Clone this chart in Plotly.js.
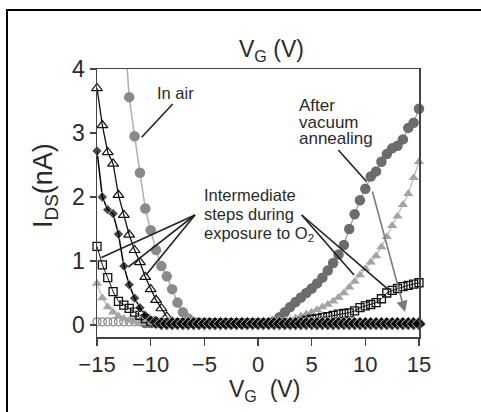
<!DOCTYPE html>
<html><head><meta charset="utf-8">
<script src="https://cdn.plot.ly/plotly-3.0.1.min.js"></script>
<style>
html,body{margin:0;padding:0;overflow:hidden;background:#fff;width:481px;height:412px}
#chart{position:absolute;left:0;top:0;width:481px;height:412px}
#frame{position:absolute;left:6px;top:9px;width:700px;height:700px;border:2px solid #000;pointer-events:none}
</style></head>
<body><div id="chart"></div><div id="frame"></div>
<script>
// Gate voltage (V)
const VG = [-15,-14.5,-14,-13.5,-13,-12.5,-12,-11.5,-11,-10.5,
  -10,-9.5,-9,-8.5,-8,-7.5,-7,-6.5,-6,-5.5,
  -5,-4.5,-4,-3.5,-3,-2.5,-2,-1.5,-1,-0.5,
  0,0.5,1,1.5,2,2.5,3,3.5,4,4.5,
  5,5.5,6,6.5,7,7.5,8,8.5,9,9.5,
  10,10.5,11,11.5,12,12.5,13,13.5,14,14.5,15];

// I_DS (nA) — in air (gray circles)
const inAir = [null,null,null,null,null,4.75,3.56,2.95,2.38,1.82,
  1.48,1.17,0.92,0.76,0.56,0.35,0.20,0.10,0.05,0.04,
  0.03,0.03,0.03,0.03,0.03,0.03,0.03,0.03,0.03,0.03,
  0.03,0.03,0.03,0.03,0.03,0.03,0.03,0.03,0.03,0.03,
  0.03,0.03,0.03,0.03,0.03,0.03,0.03,0.03,0.03,0.03,
  0.03,0.03,0.03,0.03,0.03,0.03,0.03,0.03,0.03,0.03,0.03];

// After vacuum annealing (dark gray circles)
const vacuum = [null,null,null,null,null,null,null,null,null,0.03,
  0.03,0.03,0.03,0.03,0.03,0.03,0.03,0.03,0.03,0.03,
  0.03,0.03,0.03,0.03,0.03,0.03,0.03,0.03,0.03,0.03,
  0.03,0.03,0.03,0.06,0.12,0.20,0.28,0.36,0.43,0.50,
  0.57,0.65,0.74,0.85,0.97,1.10,1.25,1.50,1.73,1.95,
  2.13,2.32,2.40,2.55,2.67,2.76,2.80,2.90,3.08,3.16,3.38];

// Intermediate step 1 (gray filled triangles)
const grayTri = [0.65,0.42,0.28,0.20,0.14,0.10,0.07,0.05,0.04,0.03,
  0.03,0.03,0.03,0.03,0.03,0.03,0.03,0.03,0.03,0.03,
  0.03,0.03,0.03,0.03,0.03,0.03,0.03,0.03,0.03,0.03,
  0.03,0.03,0.03,0.03,0.04,0.05,0.08,0.11,0.14,0.17,
  0.20,0.24,0.28,0.32,0.37,0.43,0.50,0.59,0.68,0.78,
  0.88,0.98,1.08,1.22,1.38,1.55,1.70,1.88,2.05,2.30,2.55];

// Intermediate step 2 (open squares)
const squares = [1.23,0.94,0.74,0.52,0.37,0.31,0.26,0.20,0.15,0.10,
  0.06,0.04,0.03,0.03,0.03,0.03,0.03,0.03,0.03,0.03,
  0.03,0.03,0.03,0.03,0.03,0.03,0.03,0.03,0.03,0.03,
  0.03,0.03,0.03,0.03,0.03,0.03,0.03,0.03,0.05,0.07,
  0.09,0.10,0.12,0.13,0.15,0.17,0.18,0.19,0.22,0.27,
  0.30,0.32,0.35,0.41,0.50,0.54,0.57,0.60,0.62,0.64,0.66];

// Intermediate step 3 (open triangles)
const openTri = [3.70,3.12,2.70,2.52,2.03,1.72,1.41,1.17,0.98,0.75,
  0.56,0.39,0.26,0.13,0.05,0.03,0.03,0.03,0.03,0.03,
  0.03,0.03,0.03,0.03,0.03,0.03,0.03,0.03,0.03,0.03,
  0.03,0.03,0.03,0.03,0.03,0.03,0.03,0.03,0.03,0.03,
  0.03,0.03,0.03,0.03,0.03,0.03,0.03,0.03,0.03,0.03,
  0.03,0.03,0.03,0.03,0.03,0.03,0.03,0.03,0.03,0.03,0.03];

// Intermediate step 4 (black diamonds)
const diamonds = [2.72,2.00,1.80,1.74,1.42,0.92,0.63,0.42,0.27,0.15,
  0.08,0.04,0.02,0.02,0.02,0.02,0.02,0.02,0.02,0.02,
  0.02,0.02,0.02,0.02,0.02,0.02,0.02,0.02,0.02,0.02,
  0.02,0.02,0.02,0.02,0.02,0.02,0.02,0.02,0.02,0.02,
  0.02,0.02,0.02,0.02,0.02,0.02,0.02,0.02,0.02,0.02,
  0.02,0.02,0.02,0.02,0.02,0.02,0.02,0.02,0.02,0.02,0.02];

// Open circles near zero (left end)
const openCirc = [0.05,0.05,0.05,0.05,0.05,0.05,0.05,0.05,0.05,null,
  null,null,null,null,null,null,null,null,null,null,
  null,null,null,null,null,null,null,null,null,null,
  null,null,null,null,null,null,null,null,null,null,
  null,null,null,null,null,null,null,null,null,null,
  null,null,null,null,null,null,null,null,null,null,null];

const xTicks = [-15,-10,-5,0,5,10,15];
const yTicks = [0,1,2,3,4];

const FONT = 'Liberation Sans, Arial, sans-serif';
const TXT = '#2a2a2a';

// plot-area pixel frame helpers (layout placement only)
const L = 97, R = 419, T = 69, B = 337;
const px = v => (v - L) / (R - L);
const py = v => (B - v) / (B - T);

function series(y, opts) {
  return Object.assign({x: VG, y: y, type: 'scatter', mode: 'lines+markers',
    cliponaxis: false, hoverinfo: 'skip', showlegend: false}, opts);
}

const data = [
  series(openCirc, {mode: 'markers', marker: {symbol: 'circle-open', size: 8, color: '#8a8a8a', line: {width: 1.2}}}),
  series(inAir, {cliponaxis: true, line: {color: '#b0b0b0', width: 1.5},
    marker: {symbol: 'circle', size: 10.5, color: '#8a8a8a'}}),
  series(vacuum, {line: {color: '#9a9a9a', width: 1.2},
    marker: {symbol: 'circle', size: 10.5, color: '#6c6c6c'}}),
  series(grayTri, {line: {color: '#b8b8b8', width: 1.2},
    marker: {symbol: 'triangle-up', size: 9, color: '#a4a4a4'}}),
  series(squares, {line: {color: '#111', width: 1},
    marker: {symbol: 'square-open', size: 8, color: '#111', line: {width: 1.3}}}),
  series(openTri, {line: {color: '#111', width: 1.3},
    marker: {symbol: 'triangle-up-open', size: 9.5, color: '#111', line: {width: 1.2}}}),
  series(diamonds, {line: {color: '#000', width: 1.5},
    marker: {symbol: 'diamond', size: diamonds.map(v => v < 0.05 ? 11 : 8), color: '#000'}})
];

function seg(x0, y0, x1, y1) {
  return {type: 'line', xref: 'paper', yref: 'paper', x0: px(x0), y0: py(y0), x1: px(x1), y1: py(y1),
    line: {color: '#222', width: 1.6}};
}
const shapes = [
  seg(172.7, 104, 141.7, 137.3),
  seg(195, 215, 101.5, 257.5),
  seg(195, 215, 128.3, 267),
  seg(195, 215, 146, 275),
  seg(301.7, 215, 354, 275),
  seg(301.7, 215, 387, 288.3),
  seg(338.3, 150, 366.7, 181.7)
];

function label(text, x, y, anchor, size) {
  return {text: text, xref: 'paper', yref: 'paper', x: px(x), y: py(y), xanchor: anchor, yanchor: 'middle',
    showarrow: false, font: {family: FONT, size: size, color: TXT}};
}
const annotations = [
  label('V<sub>G</sub> (V)', 271, 51, 'center', 23),
  label('V<sub>G</sub>  (V)', 264, 390, 'center', 23),
  Object.assign(label('I<sub>DS</sub>(nA)', 45, 186, 'center', 27), {textangle: -90}),
  label('In air', 175, 93.4, 'center', 16.5),
  label('After', 296.7, 105.8, 'left', 17),
  label('vacuum', 297, 122.4, 'left', 17),
  label('annealing', 296.7, 138, 'left', 17),
  label('Intermediate', 201.7, 195, 'left', 16.5),
  label('steps during', 201.7, 214, 'left', 16.5),
  label('exposure to O<sub>2</sub>', 201.7, 234, 'left', 16.5),
  {text: '', xref: 'paper', yref: 'paper', x: px(405), y: py(312), ax: 372 - 405, ay: 190 - 312,
    showarrow: true, arrowhead: 2, arrowsize: 1.4, arrowwidth: 1.6, arrowcolor: '#7a7a7a'}
];

const layout = {
  width: 481, height: 412,
  margin: {l: L, r: 481 - R, t: T, b: 412 - B, pad: 0},
  paper_bgcolor: '#fff', plot_bgcolor: '#fff',
  font: {family: FONT, color: TXT},
  showlegend: false,
  xaxis: {range: [-15, 15], tickvals: xTicks,
    ticks: 'outside', ticklen: 7, tickwidth: 1.5, tickcolor: '#444',
    showline: true, linecolor: '#444', linewidth: 1.5, mirror: true,
    showgrid: false, zeroline: false, tickfont: {family: FONT, size: 22, color: TXT}},
  yaxis: {range: [-0.1875, 4], tickvals: yTicks,
    ticks: 'outside', ticklen: 6, tickwidth: 1.5, tickcolor: '#444',
    showline: true, linecolor: '#444', linewidth: 1.5, mirror: true,
    showgrid: false, zeroline: false, tickfont: {family: FONT, size: 23, color: TXT}},
  shapes: shapes,
  annotations: annotations
};

Plotly.newPlot('chart', data, layout, {staticPlot: true, displayModeBar: false});
</script></body></html>
